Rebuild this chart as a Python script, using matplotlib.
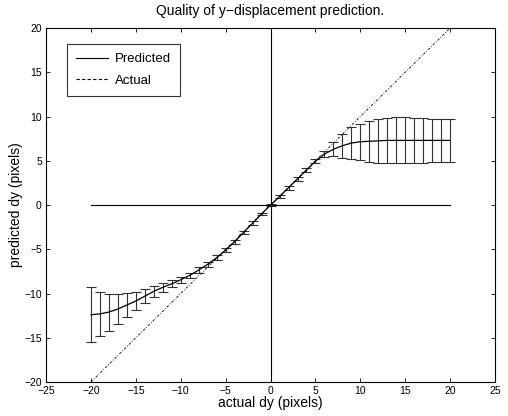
import numpy as np
import matplotlib.pyplot as plt
from matplotlib.lines import Line2D

plt.rcParams['font.family'] = ['Liberation Sans', 'DejaVu Sans']

# valores
dx = list(range(-20, 21))
pred = [-12.4, -12.3, -12.1, -11.75, -11.3, -10.85, -10.3, -9.75, -9.3, -8.9,
        -8.45, -7.95, -7.35, -6.7, -5.95, -5.1, -4.15, -3.1, -2.05, -1.0,
        0.0, 0.95, 1.95, 2.95, 3.95, 4.95, 5.75, 6.3, 6.7, 7.0,
        7.15, 7.2, 7.25, 7.3, 7.3, 7.3, 7.3, 7.3, 7.3, 7.3, 7.3]
erro = [3.1, 2.5, 2.1, 1.7, 1.4, 1.0, 0.8, 0.65, 0.5, 0.4,
        0.35, 0.3, 0.3, 0.3, 0.3, 0.25, 0.25, 0.2, 0.2, 0.15,
        0.1, 0.15, 0.2, 0.2, 0.25, 0.25, 0.35, 0.8, 1.35, 1.8,
        2.05, 2.3, 2.45, 2.55, 2.6, 2.6, 2.55, 2.5, 2.45, 2.45, 2.45]
ticks = [-25, -20, -15, -10, -5, 0, 5, 10, 15, 20, 25]
yticks = [-20, -15, -10, -5, 0, 5, 10, 15, 20]

fig = plt.figure(figsize=(5.08, 4.16), dpi=100)
eixo = fig.add_axes([0.0906, 0.0817, 0.884, 0.851])

eixo.plot([dx[0], dx[-1]], [dx[0], dx[-1]], color='black', lw=0.6, ls=(0, (3, 2, 1, 2)))
eixo.plot([dx[0], dx[-1]], [0, 0], color='black', lw=0.8)
eixo.plot([0, 0], [-20, 20], color='black', lw=0.8)
eixo.errorbar(dx, pred, yerr=erro, color='black', lw=0.9, ecolor='#333333',
              elinewidth=0.8, capsize=3.5, capthick=0.8)

eixo.set_xlim(-25, 25)
eixo.set_ylim(-20, 20)
eixo.set_xticks(ticks)
eixo.set_yticks(yticks)
eixo.tick_params(direction='in', top=True, right=True, labelsize=7.5, length=3, width=0.6, pad=3)
for s in eixo.spines.values():
    s.set_linewidth(0.8)

eixo.set_title('Quality of y\u2212displacement prediction.', fontsize=10, pad=9)
eixo.set_xlabel('actual dy (pixels)', fontsize=10, labelpad=0)
eixo.set_ylabel('predicted dy (pixels)', fontsize=10, labelpad=1)

handles = [Line2D([], [], color='black', lw=0.8),
           Line2D([], [], color='black', lw=0.8, ls=(0, (3, 2)))]
leg = eixo.legend(handles, ['Predicted', 'Actual'], loc='upper left',
                  bbox_to_anchor=(0.047, 0.955), borderaxespad=0, fontsize=9.5,
                  frameon=True, fancybox=False, edgecolor='black', handlelength=2.4,
                  borderpad=0.7, labelspacing=0.7, handletextpad=0.5)
leg.get_frame().set_linewidth(0.8)

fig.savefig('out.png', dpi=100)
